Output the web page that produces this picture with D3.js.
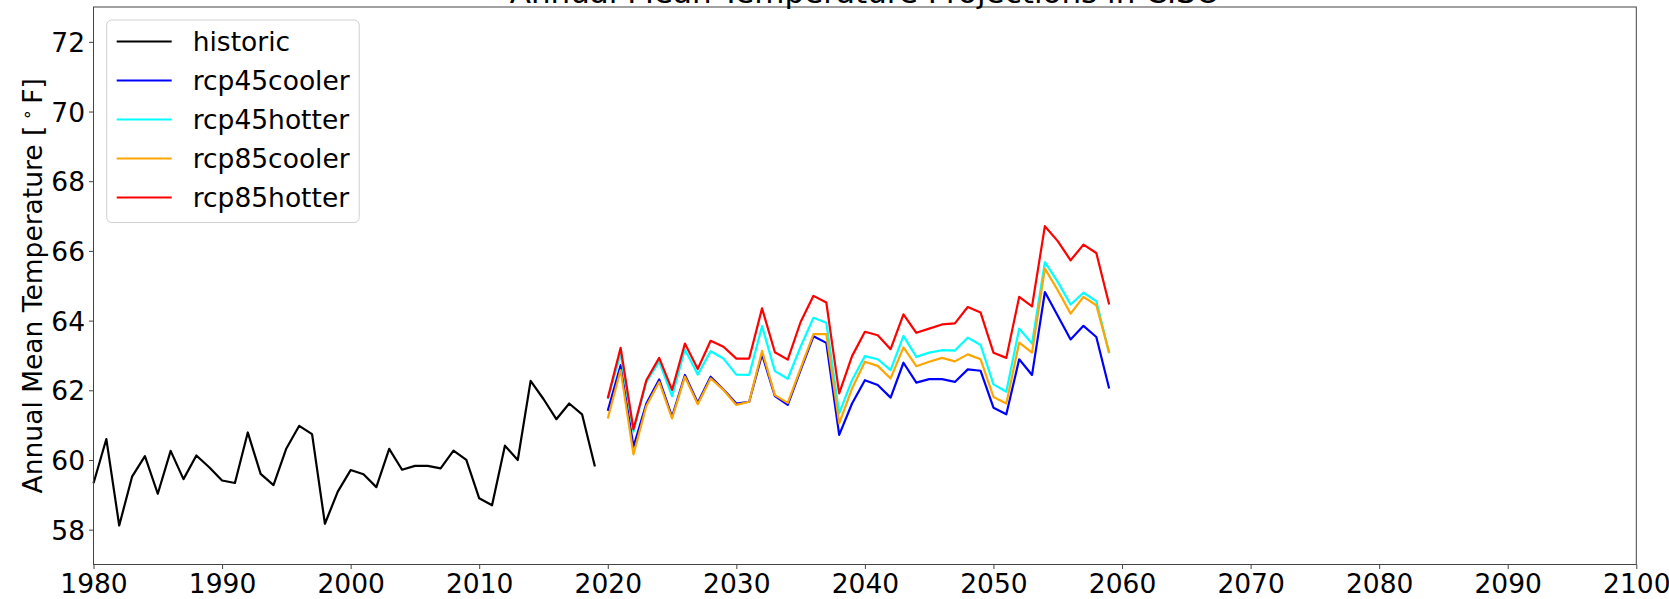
<!DOCTYPE html>
<html>
<head>
<meta charset="utf-8">
<script src="https://cdn.jsdelivr.net/npm/d3@7"></script>
<style>
    body { margin: 0; background: #fff; }
    svg text { font-family: "DejaVu Sans", sans-serif; }
</style>
</head>
<body>
<svg id="grafic" width="1669" height="599"></svg>
<script>
// ------------------DATA------------------
var anysHistoric = d3.range(1980, 2020);
var anysProjeccio = d3.range(2020, 2060);

var historic = [59.33, 60.60, 58.12, 59.52, 60.11, 59.03, 60.26, 59.45, 60.13, 59.79,
    59.41, 59.34, 60.79, 59.60, 59.28, 60.33, 60.98, 60.74, 58.17, 59.09,
    59.71, 59.59, 59.22, 60.32, 59.72, 59.83, 59.83, 59.76, 60.27, 60.00,
    58.90, 58.70, 60.41, 60.00, 62.27, 61.75, 61.17, 61.62, 61.31, 59.81];

var rcp45cooler = [61.41, 62.72, 60.38, 61.62, 62.31, 61.24, 62.44, 61.64, 62.39, 62.02,
    61.62, 61.67, 63.03, 61.83, 61.58, 62.58, 63.55, 63.36, 60.72, 61.62,
    62.29, 62.15, 61.79, 62.79, 62.22, 62.32, 62.32, 62.24, 62.60, 62.56,
    61.50, 61.31, 62.89, 62.44, 64.82, 64.14, 63.46, 63.85, 63.53, 62.05];

var rcp45hotter = [61.75, 63.05, 60.81, 62.24, 62.82, 61.83, 63.17, 62.45, 63.12, 62.91,
    62.45, 62.44, 63.84, 62.55, 62.33, 63.25, 64.08, 63.94, 61.34, 62.29,
    62.98, 62.89, 62.58, 63.56, 62.96, 63.08, 63.15, 63.14, 63.51, 63.30,
    62.17, 61.96, 63.77, 63.34, 65.68, 65.11, 64.46, 64.80, 64.56, 63.06];

var rcp85cooler = [61.19, 62.58, 60.16, 61.55, 62.24, 61.19, 62.39, 61.60, 62.34, 62.01,
    61.58, 61.67, 63.13, 61.86, 61.64, 62.63, 63.61, 63.61, 61.05, 62.05,
    62.82, 62.70, 62.34, 63.23, 62.69, 62.82, 62.93, 62.83, 63.03, 62.89,
    61.81, 61.62, 63.37, 63.08, 65.49, 64.87, 64.20, 64.68, 64.44, 63.08];

var rcp85hotter = [61.77, 63.22, 60.88, 62.29, 62.93, 62.01, 63.34, 62.61, 63.42, 63.25,
    62.91, 62.91, 64.35, 63.09, 62.88, 63.96, 64.71, 64.52, 61.91, 62.98,
    63.68, 63.58, 63.18, 64.18, 63.65, 63.77, 63.89, 63.92, 64.39, 64.23,
    63.08, 62.93, 64.68, 64.41, 66.71, 66.28, 65.73, 66.18, 65.94, 64.46];

var noms = ["historic", "rcp45cooler", "rcp45hotter", "rcp85cooler", "rcp85hotter"];
var colors = ["#000000", "#0000ff", "#00ffff", "#ffa500", "#ff0000"];
var ticksX = d3.range(1980, 2101, 10);
var ticksY = d3.range(58, 73, 2);

// ------------------ESCALES------------------
var esquerra = 93.5, dreta = 1636.3, dalt = 7, baix = 564.5;

var x = d3.scaleLinear().domain([1980, 2100]).range([esquerra, dreta]);
var y = d3.scaleLinear().domain([57, 73]).range([baix, dalt]);

var svg = d3.select("#grafic");

// series: anys + valors per cada linia
var series = [
    { nom: noms[0], color: colors[0], anys: anysHistoric, valors: historic },
    { nom: noms[1], color: colors[1], anys: anysProjeccio, valors: rcp45cooler },
    { nom: noms[2], color: colors[2], anys: anysProjeccio, valors: rcp45hotter },
    { nom: noms[3], color: colors[3], anys: anysProjeccio, valors: rcp85cooler },
    { nom: noms[4], color: colors[4], anys: anysProjeccio, valors: rcp85hotter }
];

// ------------------FUNCIONS------------------
function dibuixarEixos() {
    let eixX = svg.append("g")
        .attr("transform", `translate(0,${baix})`)
        .call(d3.axisBottom(x).tickValues(ticksX).tickFormat(d3.format("d")).tickSizeOuter(0).tickSize(4.5).tickPadding(5));
    let eixY = svg.append("g")
        .attr("transform", `translate(${esquerra},0)`)
        .call(d3.axisLeft(y).tickValues(ticksY).tickSizeOuter(0).tickSize(4.5).tickPadding(4));
    [eixX, eixY].forEach(function (e) {
        e.select(".domain").remove();
        e.selectAll("line").attr("stroke", "#444").attr("stroke-width", 1);
        e.selectAll("text").attr("fill", "#000").style("font-size", "26.5px");
    });
    eixX.selectAll("text").attr("dy", "0.71em");
    eixY.selectAll("text").attr("dy", "0.36em");

    // marc del grafic
    svg.append("rect")
        .attr("x", esquerra)
        .attr("y", dalt)
        .attr("width", dreta - esquerra)
        .attr("height", baix - dalt)
        .attr("fill", "none")
        .attr("stroke", "#444")
        .attr("stroke-width", 1);
}

function dibuixarLinies() {
    let linia = d3.line()
        .x(d => x(d[0]))
        .y(d => y(d[1]));
    series.forEach(function (s) {
        svg.append("path")
            .datum(d3.zip(s.anys, s.valors))
            .attr("d", linia)
            .attr("fill", "none")
            .attr("stroke", s.color)
            .attr("stroke-width", 2.2)
            .attr("stroke-linejoin", "round");
    });
}

function dibuixarTextos() {
    svg.append("text")
        .attr("x", (esquerra + dreta) / 2)
        .attr("y", 3)
        .attr("text-anchor", "middle")
        .style("font-size", "31px")
        .text("Annual Mean Temperature Projections in CISO");

    let etiqueta = svg.append("text")
        .attr("transform", `translate(42,${(dalt + baix) / 2}) rotate(-90)`)
        .attr("text-anchor", "middle")
        .style("font-size", "26.5px");
    etiqueta.append("tspan").text("Annual Mean Temperature [\u2009");
    etiqueta.append("tspan").attr("dy", -9).style("font-size", "18px").text("\u2218");
    etiqueta.append("tspan").attr("dy", 9).text("\u2009F]");
}

function dibuixarLlegenda() {
    let g = svg.append("g");
    g.append("rect")
        .attr("x", 106.7)
        .attr("y", 20)
        .attr("width", 252.5)
        .attr("height", 202.5)
        .attr("rx", 5)
        .attr("fill", "#fff")
        .attr("fill-opacity", 0.8)
        .attr("stroke", "#d0d0d0")
        .attr("stroke-width", 1);
    series.forEach(function (s, i) {
        let fy = 41.5 + i * 39;
        g.append("line")
            .attr("x1", 116.7).attr("x2", 171.7)
            .attr("y1", fy).attr("y2", fy)
            .attr("stroke", s.color)
            .attr("stroke-width", 2.2);
        g.append("text")
            .attr("x", 192.7)
            .attr("y", fy)
            .attr("dy", "0.36em")
            .style("font-size", "26.5px")
            .text(s.nom);
    });
}

// ------------------MAIN------------------
dibuixarLinies();
dibuixarEixos();
dibuixarLlegenda();
dibuixarTextos();
</script>
</body>
</html>
